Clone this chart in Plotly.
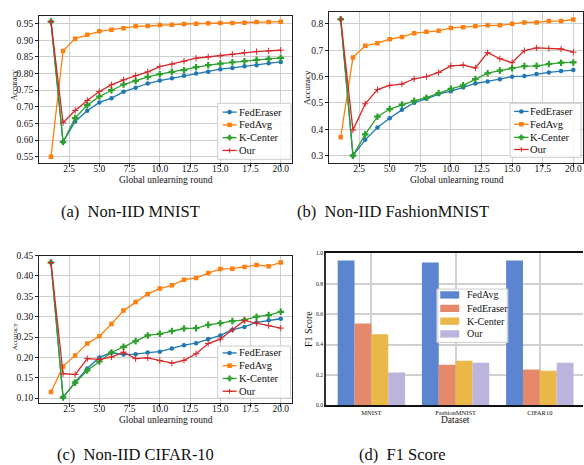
import plotly.graph_objects as go

W, H = 584, 465
FONT = "Liberation Serif"

rounds = list(range(1, 21))
methods = ["FedEraser", "FedAvg", "K-Center", "Our"]
line_colors = ["#1f77b4", "#ff7f0e", "#2ca02c", "#d62728"]

mnist_federaser = [0.956, 0.594, 0.656, 0.688, 0.713, 0.726, 0.745, 0.757, 0.770, 0.779,
                   0.786, 0.793, 0.800, 0.805, 0.813, 0.817, 0.822, 0.825, 0.831, 0.835]
mnist_fedavg = [0.550, 0.868, 0.905, 0.917, 0.927, 0.932, 0.936, 0.942, 0.943, 0.946,
                0.947, 0.949, 0.950, 0.951, 0.952, 0.952, 0.953, 0.955, 0.955, 0.956]
mnist_kcenter = [0.956, 0.594, 0.666, 0.705, 0.731, 0.750, 0.767, 0.778, 0.790, 0.798,
                 0.805, 0.810, 0.819, 0.825, 0.830, 0.834, 0.837, 0.841, 0.844, 0.847]
mnist_our = [0.956, 0.652, 0.689, 0.719, 0.746, 0.766, 0.781, 0.794, 0.805, 0.821,
             0.828, 0.837, 0.846, 0.850, 0.853, 0.858, 0.863, 0.866, 0.868, 0.870]

fmnist_federaser = [0.818, 0.300, 0.360, 0.407, 0.442, 0.474, 0.501, 0.516, 0.534, 0.545,
                    0.559, 0.574, 0.582, 0.590, 0.600, 0.602, 0.610, 0.616, 0.621, 0.625]
fmnist_fedavg = [0.370, 0.673, 0.717, 0.727, 0.742, 0.751, 0.765, 0.770, 0.774, 0.785,
                 0.788, 0.791, 0.795, 0.795, 0.801, 0.806, 0.806, 0.811, 0.811, 0.817]
fmnist_kcenter = [0.818, 0.300, 0.381, 0.448, 0.477, 0.494, 0.508, 0.520, 0.538, 0.554,
                  0.567, 0.591, 0.613, 0.623, 0.632, 0.640, 0.641, 0.648, 0.653, 0.654]
fmnist_our = [0.818, 0.397, 0.497, 0.551, 0.567, 0.572, 0.592, 0.600, 0.616, 0.641,
              0.644, 0.633, 0.691, 0.668, 0.653, 0.699, 0.709, 0.707, 0.705, 0.693]

cifar_federaser = [0.433, 0.102, 0.139, 0.173, 0.200, 0.212, 0.207, 0.208, 0.212, 0.214,
                   0.222, 0.230, 0.235, 0.245, 0.254, 0.268, 0.275, 0.286, 0.291, 0.295]
cifar_fedavg = [0.115, 0.178, 0.205, 0.234, 0.252, 0.282, 0.315, 0.336, 0.356, 0.369,
                0.377, 0.391, 0.395, 0.407, 0.417, 0.418, 0.422, 0.427, 0.424, 0.433]
cifar_kcenter = [0.433, 0.102, 0.138, 0.168, 0.190, 0.212, 0.226, 0.240, 0.254, 0.258,
                 0.265, 0.271, 0.272, 0.280, 0.284, 0.289, 0.292, 0.300, 0.304, 0.312]
cifar_our = [0.433, 0.160, 0.158, 0.197, 0.195, 0.201, 0.213, 0.197, 0.199, 0.192,
             0.186, 0.193, 0.209, 0.234, 0.245, 0.268, 0.291, 0.284, 0.278, 0.272]

f1_datasets = ["MNIST", "FashionMNIST", "CIFAR10"]
f1_methods = ["FedAvg", "FedEraser", "K-Center", "Our"]
f1_colors = ["#5b84d1", "#e5896a", "#e9b849", "#bcb4dc"]
f1_fedavg = [0.953, 0.940, 0.953]
f1_federaser = [0.539, 0.267, 0.235]
f1_kcenter = [0.468, 0.293, 0.228]
f1_our = [0.216, 0.280, 0.280]

marker_styles = [
    dict(symbol="circle", size=4.5),
    dict(symbol="square", size=4.5),
    dict(symbol="cross", size=5.5),
    dict(symbol="cross-thin", size=4.5),
]


def PX(x):
    return x / W


def PY(y):
    return 1 - y / H


fig = go.Figure()

panels = [
    ("x", "y", [mnist_federaser, mnist_fedavg, mnist_kcenter, mnist_our]),
    ("x2", "y2", [fmnist_federaser, fmnist_fedavg, fmnist_kcenter, fmnist_our]),
    ("x3", "y3", [cifar_federaser, cifar_fedavg, cifar_kcenter, cifar_our]),
]
for xa, ya, series in panels:
    for name, vals, col, ms in zip(methods, series, line_colors, marker_styles):
        mk = dict(color=col, **ms)
        if ms["symbol"] == "cross-thin":
            mk["line"] = dict(color=col, width=1)
        else:
            mk["line"] = dict(width=0)
        fig.add_trace(go.Scatter(
            x=rounds, y=vals, name=name, mode="lines+markers",
            line=dict(color=col, width=1.3), marker=mk,
            xaxis=xa, yaxis=ya, showlegend=False))

for name, vals, col in zip(f1_methods, [f1_fedavg, f1_federaser, f1_kcenter, f1_our], f1_colors):
    fig.add_trace(go.Bar(x=f1_datasets, y=vals, name=name, marker=dict(color=col, line=dict(width=0)),
                         xaxis="x4", yaxis="y4", showlegend=False))

tick_font = dict(family=FONT, size=9.5, color="#111")
grid = dict(showgrid=True, gridcolor="#cfcfcf", gridwidth=1.3, zeroline=False,
            showline=True, mirror=True, linecolor="#222", linewidth=1.2,
            ticks="outside", ticklen=3, tickwidth=1, tickcolor="#222", tickfont=tick_font)


def xline(domain, rng, anchor):
    return dict(domain=domain, range=rng, anchor=anchor, tickmode="linear", tick0=2.5, dtick=2.5,
                tickformat=".1f", ticklabelstandoff=-7, **grid)


def yline(domain, rng, anchor, dtick, fmt):
    return dict(domain=domain, range=rng, anchor=anchor, tickmode="linear", tick0=0, dtick=dtick,
                tickformat=fmt, **grid)


fig.update_layout(
    xaxis=xline([39.3 / W, 292.5 / W], [0.03, 20.93], "y"),
    yaxis=yline([PY(161), PY(10.7)], [0.5302, 0.9745], "x", 0.05, ".2f"),
    xaxis2=xline([329.7 / W, 1.0], [0.054, 20.79], "y2"),
    yaxis2=yline([PY(161), PY(7)], [0.2713, 0.8459], "x2", 0.1, ".1f"),
    xaxis3=xline([39.3 / W, 292.5 / W], [0.03, 20.93], "y3"),
    yaxis3=yline([PY(405), PY(255)], [0.088, 0.450], "x3", 0.05, ".2f"),
    xaxis4=dict(domain=[326.3 / W, 1.0], range=[-0.542, 2.513], anchor="y4", type="category",
                showgrid=True, gridcolor="#d0d0d0", gridwidth=1.5, zeroline=False,
                showline=True, mirror=True, linecolor="#111", linewidth=1.5, ticks="",
                tickfont=dict(family=FONT, size=6.5, color="#111")),
    yaxis4=dict(domain=[PY(407.3), PY(252.7)], range=[0, 1], anchor="x4", tickmode="linear",
                tick0=0, dtick=0.2, tickformat=".1f", showgrid=True, gridcolor="#d0d0d0",
                gridwidth=1.5, zeroline=False, showline=True, linecolor="#333", linewidth=1.5,
                ticks="", tickfont=dict(family=FONT, size=5.5, color="#111")),
    barmode="group", bargap=0.2, bargroupgap=0,
    width=W, height=H, autosize=False,
    margin=dict(l=0, r=0, t=0, b=0, pad=0),
    paper_bgcolor="white", plot_bgcolor="white",
    font=dict(family=FONT, color="#111"),
)

shapes = []
annotations = []


def text(x, y, s, size, xanchor="center", angle=0):
    annotations.append(dict(x=PX(x), y=PY(y), xref="paper", yref="paper", text=s, showarrow=False,
                            xanchor=xanchor, yanchor="middle", textangle=angle,
                            borderpad=0, borderwidth=0,
                            font=dict(family=FONT, size=size, color="#111")))


def marker_shape(kind, cx, cy, col):
    if kind == "circle":
        r = 2.3
        shapes.append(dict(type="circle", xref="paper", yref="paper", x0=PX(cx - r), x1=PX(cx + r),
                           y0=PY(cy + r), y1=PY(cy - r), fillcolor=col, line=dict(width=0), layer="above"))
    elif kind == "square":
        r = 2.3
        shapes.append(dict(type="rect", xref="paper", yref="paper", x0=PX(cx - r), x1=PX(cx + r),
                           y0=PY(cy + r), y1=PY(cy - r), fillcolor=col, line=dict(width=0), layer="above"))
    elif kind == "cross":
        r, a = 3.0, 1.1
        pts = [(cx - a, cy - r), (cx + a, cy - r), (cx + a, cy - a), (cx + r, cy - a), (cx + r, cy + a),
               (cx + a, cy + a), (cx + a, cy + r), (cx - a, cy + r), (cx - a, cy + a), (cx - r, cy + a),
               (cx - r, cy - a), (cx - a, cy - a)]
        path = "M" + " L".join(f"{PX(px):.5f},{PY(py):.5f}" for px, py in pts) + " Z"
        shapes.append(dict(type="path", xref="paper", yref="paper", path=path, fillcolor=col,
                           line=dict(width=0), layer="above"))
    else:
        r = 2.3
        path = (f"M{PX(cx - r):.5f},{PY(cy):.5f} L{PX(cx + r):.5f},{PY(cy):.5f} "
                f"M{PX(cx):.5f},{PY(cy - r):.5f} L{PX(cx):.5f},{PY(cy + r):.5f}")
        shapes.append(dict(type="path", xref="paper", yref="paper", path=path,
                           line=dict(color=col, width=1), layer="above"))


def line_legend(box, lx0, lx1, tx, rows):
    x0, y0, x1, y1 = box
    shapes.append(dict(type="rect", xref="paper", yref="paper", x0=PX(x0), x1=PX(x1), y0=PY(y1), y1=PY(y0),
                       fillcolor="rgba(255,255,255,0.85)", line=dict(color="#cccccc", width=1), layer="above"))
    for name, col, ms, ry in zip(methods, line_colors, marker_styles, rows):
        shapes.append(dict(type="line", xref="paper", yref="paper", x0=PX(lx0), x1=PX(lx1), y0=PY(ry), y1=PY(ry),
                           line=dict(color=col, width=1.3), layer="above"))
        marker_shape(ms["symbol"], (lx0 + lx1) / 2, ry, col)
        text(tx, ry, name, 10.5, xanchor="left")


line_legend((218, 100, 291.5, 157), 223, 237, 239, [109, 122, 135, 148])
line_legend((511, 100, 582, 155), 515, 529.5, 531, [108.3, 121.3, 134.7, 147])
line_legend((218, 347, 291, 400), 223, 237, 239, [354, 367, 380, 393])

# bar legend
shapes.append(dict(type="rect", xref="paper", yref="paper", x0=PX(437.7), x1=PX(508.7), y0=PY(343.3), y1=PY(289),
                   fillcolor="rgba(255,255,255,0.85)", line=dict(color="#cccccc", width=1), layer="above"))
for name, col, ry in zip(f1_methods, f1_colors, [295, 308.7, 321.7, 334.7]):
    shapes.append(dict(type="rect", xref="paper", yref="paper", x0=PX(441), x1=PX(460), y0=PY(ry + 3.7),
                       y1=PY(ry - 3.7), fillcolor=col, line=dict(width=0), layer="above"))
    text(467.7, ry, name, 10, xanchor="left")

# axis titles
text(166, 178, "Global unlearning round", 9.5)
text(457.7, 178, "Global unlearning round", 9.5)
text(166, 422.3, "Global unlearning round", 9.5)
text(456, 422, "Dataset", 9.5)
text(15, 81, "Accuracy", 8, angle=-90)
text(307, 84, "Accuracy", 9, angle=-90)
text(15, 337, "Accuracy", 7, angle=-90)
text(309.3, 330, "F1 Score", 10, angle=-90)

# captions
text(131, 210, "(a)\u00a0\u00a0Non-IID MNIST", 16.5)
text(394, 210, "(b)\u00a0\u00a0Non-IID FashionMNIST", 16.5)
text(135.5, 457, "(c)\u00a0\u00a0Non-IID CIFAR-10", 16.5)
text(403, 457, "(d)\u00a0\u00a0F1 Score", 16.5)

fig.update_layout(shapes=shapes, annotations=annotations)
fig.write_html("out.html")
